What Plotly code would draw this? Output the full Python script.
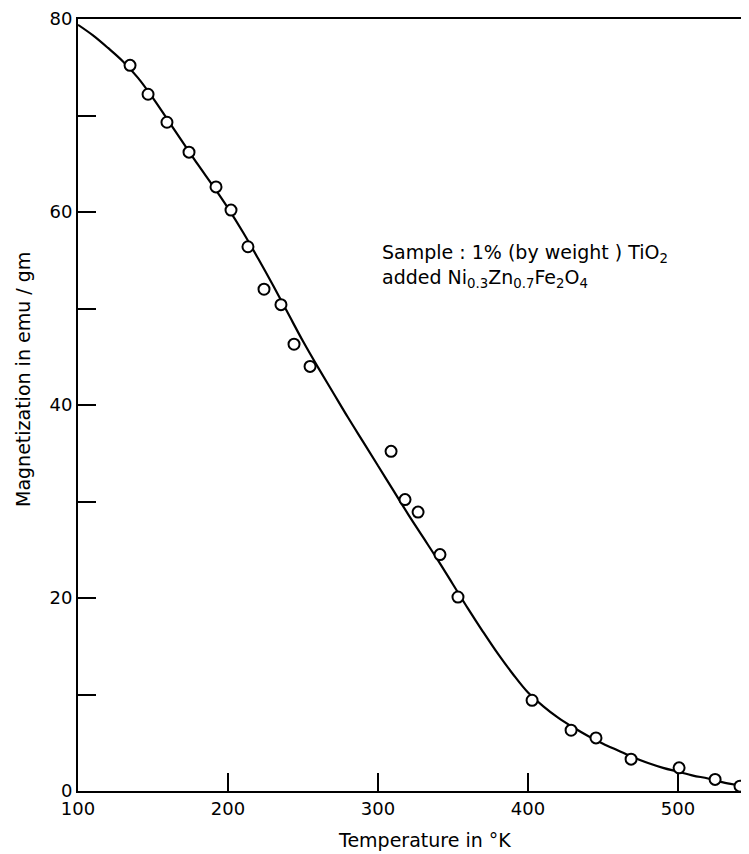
import plotly.graph_objects as go

# Measured data points (Temperature K, Magnetization emu/gm)
temp_pts = [134.7, 146.7, 159.3, 174.0, 192.0, 202.0, 213.3, 224.0, 235.3, 244.0, 254.7,
            308.7, 318.0, 326.7, 341.3, 353.3, 402.7, 428.7, 445.3, 468.7, 500.7, 524.7, 541.3]
mag_pts = [75.2, 72.2, 69.3, 66.2, 62.6, 60.2, 56.4, 52.0, 50.4, 46.3, 44.0,
           35.2, 30.2, 28.9, 24.5, 20.1, 9.4, 6.3, 5.5, 3.3, 2.4, 1.2, 0.5]

# Smooth fitted curve
temp_curve = [100, 110, 120, 130, 140, 150, 160, 170, 180, 190, 200, 210, 220, 230, 240,
              250, 260, 270, 280, 290, 300, 310, 320, 330, 340, 350, 360, 370, 380, 390,
              400, 410, 420, 430, 440, 450, 460, 470, 480, 490, 500, 510, 520, 530, 540, 547]
mag_curve = [79.4, 78.3, 77.0, 75.6, 73.9, 71.8, 69.5, 67.2, 64.9, 62.7, 60.4, 57.9, 55.2, 52.4, 49.5,
             46.6, 43.9, 41.3, 38.7, 36.2, 33.7, 31.2, 28.7, 26.3, 23.9, 21.4, 18.9, 16.5, 14.2, 12.1,
             10.2, 8.8, 7.6, 6.6, 5.7, 4.9, 4.2, 3.5, 2.9, 2.4, 2.0, 1.6, 1.3, 0.9, 0.6, 0.4]

x_ticks = [100, 200, 300, 400, 500]
y_ticks = [0, 20, 40, 60, 80]

FONT = "DejaVu Sans"

fig = go.Figure()
fig.add_trace(go.Scatter(x=temp_curve, y=mag_curve, mode="lines",
                         line=dict(color="black", width=2.2, shape="spline", smoothing=1.0),
                         hoverinfo="skip", showlegend=False))
fig.add_trace(go.Scatter(x=temp_pts, y=mag_pts, mode="markers",
                         marker=dict(symbol="circle", size=11, color="white",
                                     line=dict(color="black", width=2)),
                         showlegend=False))

fig.update_layout(
    width=741, height=846,
    margin=dict(l=70, r=0, t=11, b=63),
    paper_bgcolor="white", plot_bgcolor="white",
    font=dict(family=FONT, color="black", size=18),
    xaxis=dict(range=[100, 547.3], tickvals=x_ticks, ticktext=[str(v) for v in x_ticks],
               ticks="inside", ticklen=18, tickwidth=1.5, tickcolor="black",
               showline=True, linecolor="black", linewidth=2, mirror=True,
               showgrid=False, zeroline=False, tickfont=dict(size=18, family=FONT)),
    yaxis=dict(range=[0, 80], tickvals=y_ticks, ticktext=[str(v) for v in y_ticks],
               ticks="inside", ticklen=18, tickwidth=1.5, tickcolor="black",
               minor=dict(dtick=10, ticks="inside", ticklen=18, tickwidth=1.5, tickcolor="black"),
               showline=True, linecolor="black", linewidth=2, mirror=False,
               showgrid=False, zeroline=False, tickfont=dict(size=18, family=FONT)),
)

fig.add_annotation(text="Temperature in °K", xref="paper", yref="paper",
                   x=(424 - 78) / 671, y=-(840 - 791) / 772, xanchor="center", yanchor="middle",
                   showarrow=False, font=dict(size=19, family=FONT))
fig.add_annotation(text="Magnetization in emu / gm", xref="paper", yref="paper",
                   x=-(78 - 23) / 671, y=(791 - 380) / 772, xanchor="center", yanchor="middle",
                   textangle=-90, showarrow=False, font=dict(size=19, family=FONT))
fig.add_annotation(text="Sample : 1% (by weight ) TiO<sub>2</sub><br>added Ni<sub>0.3</sub>Zn<sub>0.7</sub>Fe<sub>2</sub>O<sub>4</sub>",
                   xref="paper", yref="paper", x=(380 - 78) / 671, y=(791 - 239) / 772,
                   xanchor="left", yanchor="top", align="left", showarrow=False,
                   font=dict(size=19, family=FONT))

fig.write_html("out.html")
